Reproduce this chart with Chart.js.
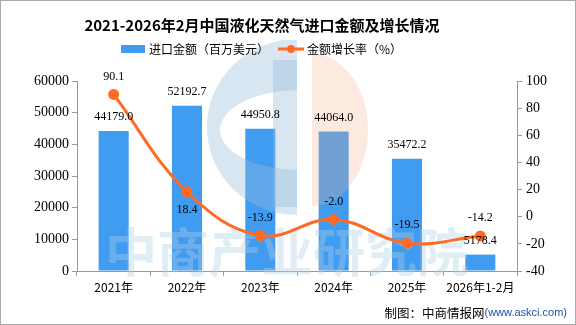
<!DOCTYPE html>
<html>
<head>
<meta charset="utf-8">
<script src="https://cdn.jsdelivr.net/npm/chart.js@4.4.1/dist/chart.umd.min.js"></script>
<style>
  html, body { margin: 0; padding: 0; background: #fff; }
  canvas { display: block; }
</style>
</head>
<body>
<canvas id="c" width="576" height="325"></canvas>
<script>
// 데이터
const categories = ['2021年', '2022年', '2023年', '2024年', '2025年', '2026年1-2月'];
const amountValues = [44179.0, 52192.7, 44950.8, 44064.0, 35472.2, 5178.4];
const growthValues = [90.1, 18.4, -13.9, -2.0, -19.5, -14.2];
const leftTicks = [0, 10000, 20000, 30000, 40000, 50000, 60000];
const rightTicks = [-40, -20, 0, 20, 40, 60, 80, 100];
// 증가율 라벨 위치 (위/아래)
const growthLabelSide = ['top', 'bottom', 'top', 'top', 'top', 'top'];

const BLUE = '#3f9cf0';
const ORANGE = '#ff6a24';
const AXIS = '#999999';
const CJK = '"Noto Sans CJK SC", "Noto Sans", sans-serif';
const NUM = '"Liberation Serif", "DejaVu Serif", serif';

// 워터마크 + 제목 + 범례 + 출처
const decorPlugin = {
    id: 'decor',
    beforeDraw(chart) {
        const ctx = chart.ctx;
        ctx.save();
        ctx.fillStyle = '#fff';
        ctx.fillRect(0, 0, chart.width, chart.height);
        ctx.restore();
    },
    afterDatasetDraw(chart, args) {
        // 막대 위에 워터마크
        if (chart.data.datasets[args.index].type !== 'bar') return;
        const ctx = chart.ctx;
        ctx.save();
        // 로고 (파란 초승달 + 세로 막대)
        ctx.fillStyle = 'rgba(150,190,215,0.38)';
        ctx.beginPath();
        ctx.rect(150, 40, 147, 200);
        ctx.clip();
        ctx.beginPath();
        ctx.ellipse(297, 127, 90, 88, 0, 0, Math.PI * 2);
        ctx.ellipse(300, 130, 80, 40, 0, 0, Math.PI * 2, true);
        ctx.fill('evenodd');
        ctx.restore();
        ctx.save();
        ctx.fillStyle = 'rgba(150,190,215,0.38)';
        ctx.fillRect(273, 60, 24, 147);
        ctx.fillStyle = 'rgba(245,175,140,0.28)';
        ctx.beginPath();
        ctx.ellipse(312, 130, 56, 76, 0, -Math.PI / 2, Math.PI / 2);
        ctx.closePath();
        ctx.fill();
        // 글자 워터마크
        ctx.fillStyle = 'rgba(175,208,230,0.38)';
        ctx.font = 'bold 52px ' + CJK;
        ctx.textAlign = 'center';
        ctx.textBaseline = 'middle';
        ctx.fillText('中商产业研究院', 287, 252);
        ctx.restore();
    },
    afterDraw(chart) {
        const ctx = chart.ctx;
        ctx.save();
        // 제목
        ctx.fillStyle = '#000';
        ctx.font = 'bold 15px ' + CJK;
        ctx.textAlign = 'center';
        ctx.textBaseline = 'middle';
        ctx.fillText('2021-2026年2月中国液化天然气进口金额及增长情况', 262, 25);

        // 범례
        ctx.fillStyle = BLUE;
        ctx.fillRect(121, 45, 24, 8);
        ctx.fillStyle = '#000';
        ctx.font = '12px ' + CJK;
        ctx.textAlign = 'left';
        ctx.fillText('进口金额（百万美元）', 149, 49);
        ctx.strokeStyle = ORANGE;
        ctx.lineWidth = 3;
        ctx.beginPath();
        ctx.moveTo(278, 49);
        ctx.lineTo(304, 49);
        ctx.stroke();
        ctx.fillStyle = ORANGE;
        ctx.beginPath();
        ctx.arc(291, 49, 4, 0, Math.PI * 2);
        ctx.fill();
        ctx.fillStyle = '#000';
        ctx.fillText('金额增长率（%）', 307, 49);

        // 데이터 라벨
        ctx.font = '12px ' + NUM;
        ctx.textAlign = 'center';
        const barMeta = chart.getDatasetMeta(1);
        barMeta.data.forEach((bar, i) => {
            ctx.fillText(amountValues[i].toFixed(1), bar.x, bar.y - 14);
        });
        const lineMeta = chart.getDatasetMeta(0);
        lineMeta.data.forEach((pt, i) => {
            const dy = growthLabelSide[i] === 'top' ? -18 : 18;
            ctx.fillText(growthValues[i].toFixed(1), pt.x, pt.y + dy);
        });

        // 출처
        ctx.textAlign = 'right';
        ctx.font = '11px "Liberation Sans", sans-serif';
        ctx.fillStyle = '#1f4fa8';
        const src2 = '(www.askci.com)';
        ctx.fillText(src2, 567, 313);
        const w2 = ctx.measureText(src2).width;
        ctx.font = '12.5px ' + CJK;
        ctx.fillStyle = '#000';
        ctx.fillText('制图：中商情报网', 567 - w2, 313);

        // 테두리
        ctx.strokeStyle = '#aaaaaa';
        ctx.lineWidth = 1;
        ctx.strokeRect(0.5, 0.5, chart.width - 1, chart.height - 1);
        ctx.restore();
    }
};

new Chart(document.getElementById('c').getContext('2d'), {
    data: {
        labels: categories,
        datasets: [
            {
                type: 'line',
                label: '金额增长率（%）',
                data: growthValues,
                yAxisID: 'y1',
                borderColor: ORANGE,
                backgroundColor: ORANGE,
                borderWidth: 3,
                pointRadius: 4,
                pointBackgroundColor: ORANGE,
                pointBorderColor: ORANGE,
                tension: 0.4,
                order: 0
            },
            {
                type: 'bar',
                label: '进口金额（百万美元）',
                data: amountValues,
                yAxisID: 'y',
                backgroundColor: BLUE,
                categoryPercentage: 1,
                barPercentage: 0.41,
                order: 1
            }
        ]
    },
    options: {
        responsive: false,
        animation: false,
        devicePixelRatio: 1,
        layout: { padding: { top: 81, left: 0, right: 0, bottom: 0 } },
        plugins: {
            legend: { display: false },
            title: { display: false },
            tooltip: { enabled: false }
        },
        scales: {
            x: {
                offset: true,
                grid: { drawOnChartArea: false, drawTicks: true, tickLength: 5, color: AXIS, offset: true },
                border: { color: AXIS },
                ticks: { color: '#000', font: { family: CJK, size: 12 }, padding: 4, maxRotation: 0 },
                afterFit(s) { s.height = 54; }
            },
            y: {
                position: 'left',
                min: 0,
                max: 60000,
                afterBuildTicks(s) { s.ticks = leftTicks.map(v => ({ value: v })); },
                grid: { drawOnChartArea: false, tickLength: 5, color: AXIS },
                border: { color: AXIS },
                ticks: { color: '#000', font: { family: NUM, size: 14 }, padding: 3, callback: v => String(v) },
                afterFit(s) { s.width = 77; }
            },
            y1: {
                position: 'right',
                min: -40,
                max: 100,
                afterBuildTicks(s) { s.ticks = rightTicks.map(v => ({ value: v })); },
                grid: { drawOnChartArea: false, tickLength: 5, color: AXIS },
                border: { color: AXIS },
                ticks: { color: '#000', font: { family: NUM, size: 14 }, padding: 4, callback: v => String(v) },
                afterFit(s) { s.width = 59; }
            }
        }
    },
    plugins: [decorPlugin]
});
</script>
</body>
</html>
